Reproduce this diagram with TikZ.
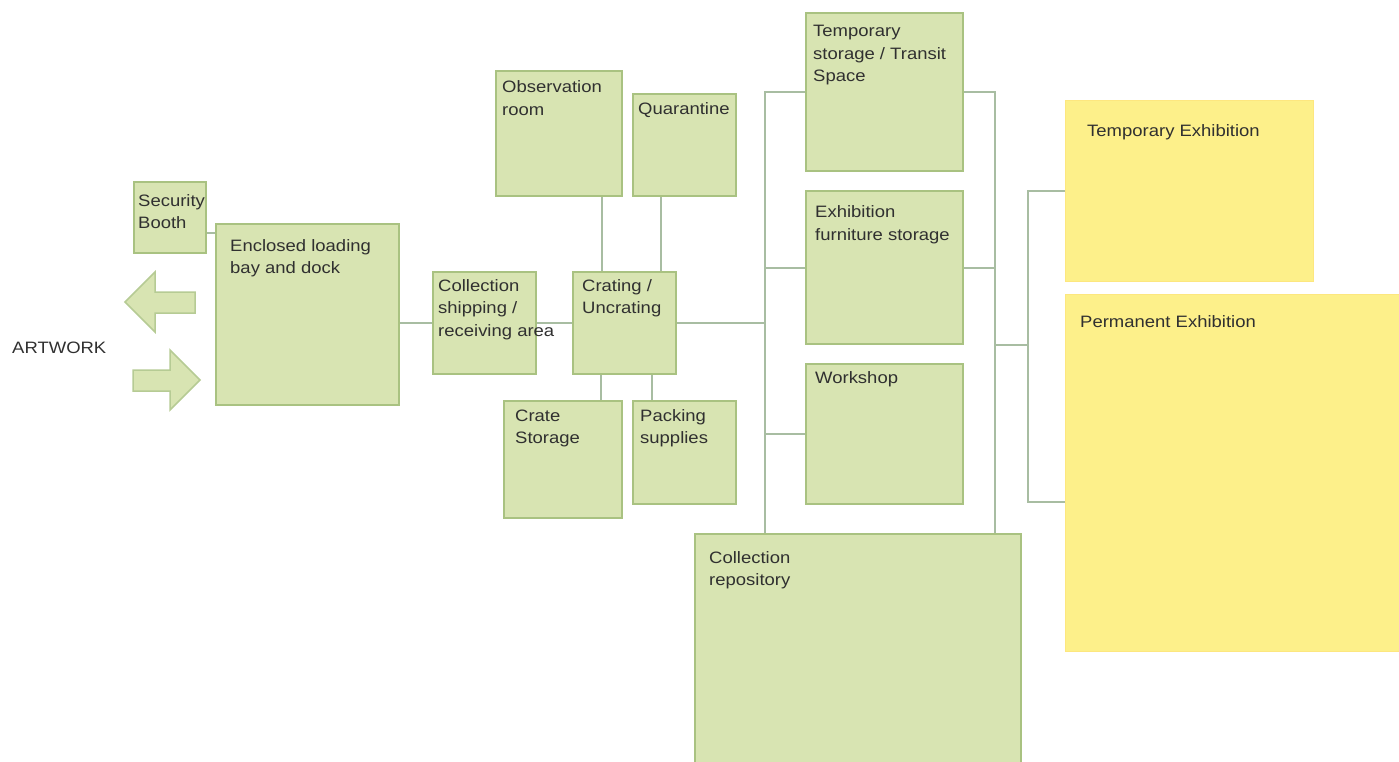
\documentclass[tikz,border=0pt]{standalone}
\usepackage{fontspec}
\setmainfont{Liberation Sans}[FakeStretch=1.12]
\definecolor{boxfill}{HTML}{D8E4B2}
\definecolor{boxline}{HTML}{A9C281}
\definecolor{conn}{HTML}{A8BDA2}
\definecolor{yel}{HTML}{FDF08A}
\definecolor{txtc}{HTML}{303030}
\newcommand{\txt}[1]{\parbox[t]{300pt}{\raggedright #1}}
\tikzset{
  room/.style={draw=boxline, fill=boxfill, line width=2pt, rectangle, inner sep=0pt, anchor=north west},
  hall/.style={draw=yel!92!orange, fill=yel, line width=1pt, rectangle, inner sep=0pt, anchor=north west},
  lab/.style={anchor=base west, inner sep=0pt, text=txtc, font=\fontsize{16.5}{22.5}\selectfont},
  link/.style={draw=conn, line width=2pt},
  blockarrow/.style={draw=boxline!85, fill=boxfill, line width=1.5pt, line join=miter}
}
\begin{document}
\begin{tikzpicture}[x=1pt, y=-1pt]
\useasboundingbox (0,0) rectangle (1399,762);

% rooms
\node[room, minimum width=72pt,  minimum height=71pt]  (sb)  at (133,181) {};
\node[room, minimum width=183pt, minimum height=181pt] (lb)  at (215,223) {};
\node[room, minimum width=103pt, minimum height=102pt] (cs)  at (432,271) {};
\node[room, minimum width=103pt, minimum height=102pt] (cr)  at (572,271) {};
\node[room, minimum width=126pt, minimum height=125pt] (ob)  at (495,70)  {};
\node[room, minimum width=103pt, minimum height=102pt] (qu)  at (632,93)  {};
\node[room, minimum width=118pt, minimum height=117pt] (cst) at (503,400) {};
\node[room, minimum width=103pt, minimum height=103pt] (ps)  at (632,400) {};
\node[room, minimum width=157pt, minimum height=158pt] (ts)  at (805,12)  {};
\node[room, minimum width=157pt, minimum height=153pt] (ef)  at (805,190) {};
\node[room, minimum width=157pt, minimum height=140pt] (ws)  at (805,363) {};
\node[room, minimum width=326pt, minimum height=240pt] (cre) at (694,533) {};
\node[hall, minimum width=248pt, minimum height=181pt] (te)  at (1065,100) {};
\node[hall, minimum width=345pt, minimum height=357pt] (pe)  at (1065,294) {};

% block arrows
\draw[blockarrow] (125,302) -- (155,272) -- (155,292) -- (195,292) -- (195,313) -- (155,313) -- (155,332) -- cycle;
\draw[blockarrow] (133,370) -- (170,370) -- (170,350) -- (200,380) -- (170,410) -- (170,391) -- (133,391) -- cycle;

% bus coordinates
\coordinate (bL) at (765,91);
\coordinate (bR) at (995,91);
\coordinate (br) at (1028,345);
\coordinate (peTap) at (1065,502);

% connectors
\draw[link] ([yshift=-15.5pt]sb.east) -- ([yshift=-15.5pt]sb.east -| lb.west);
\draw[link] (lb.east |- cs.west) -- (cs.west);
\draw[link] (cs.east) -- (cr.west);
\draw[link] (cr.east) -- (cr.east -| bL);
\draw[link] ([xshift=43pt]ob.south) -- ([xshift=43pt]ob.south |- cr.north);
\draw[link] ([xshift=-23.5pt]qu.south) -- ([xshift=-23.5pt]qu.south |- cr.north);
\draw[link] ([xshift=-23.5pt]cr.south) -- ([xshift=-23.5pt]cr.south |- cst.north);
\draw[link] ([xshift=27.5pt]cr.south) -- ([xshift=27.5pt]cr.south |- ps.north);
\draw[link] (ts.west) -- (ts.west -| bL) -- (bL |- cre.north);
\draw[link] (ef.west) -- (ef.west -| bL);
\draw[link] (ws.west) -- (ws.west -| bL);
\draw[link] (ts.east) -- (ts.east -| bR) -- (bR |- cre.north);
\draw[link] (ef.east) -- (ef.east -| bR);
\draw[link] (br -| bR) -- (br);
\draw[link] (te.west) -| (br) |- (peTap);

% labels
\node[lab] (l-art) at (12,353)   {ARTWORK};
\node[lab] (l-sb)  at (138,206)  {\txt{Security\\Booth}};
\node[lab] (l-lb)  at (230,251)  {\txt{Enclosed loading\\bay and dock}};
\node[lab] (l-cs)  at (438,291)  {\txt{Collection\\shipping /\\receiving area}};
\node[lab] (l-cr)  at (582,291)  {\txt{Crating /\\Uncrating}};
\node[lab] (l-ob)  at (502,93)   {\txt{Observation\\room}};
\node[lab] (l-qu)  at (638,115)  {Quarantine};
\node[lab] (l-cst) at (515,421)  {\txt{Crate\\Storage}};
\node[lab] (l-ps)  at (640,421)  {\txt{Packing\\supplies}};
\node[lab] (l-ts)  at (813,37)   {\txt{Temporary\\storage / Transit\\Space}};
\node[lab] (l-ef)  at (815,218)  {\txt{Exhibition\\furniture storage}};
\node[lab] (l-ws)  at (815,383)  {Workshop};
\node[lab] (l-cre) at (709,563)  {\txt{Collection\\repository}};
\node[lab] (l-te)  at (1087,137) {Temporary Exhibition};
\node[lab] (l-pe)  at (1080,327) {Permanent Exhibition};
\end{tikzpicture}
\end{document}
